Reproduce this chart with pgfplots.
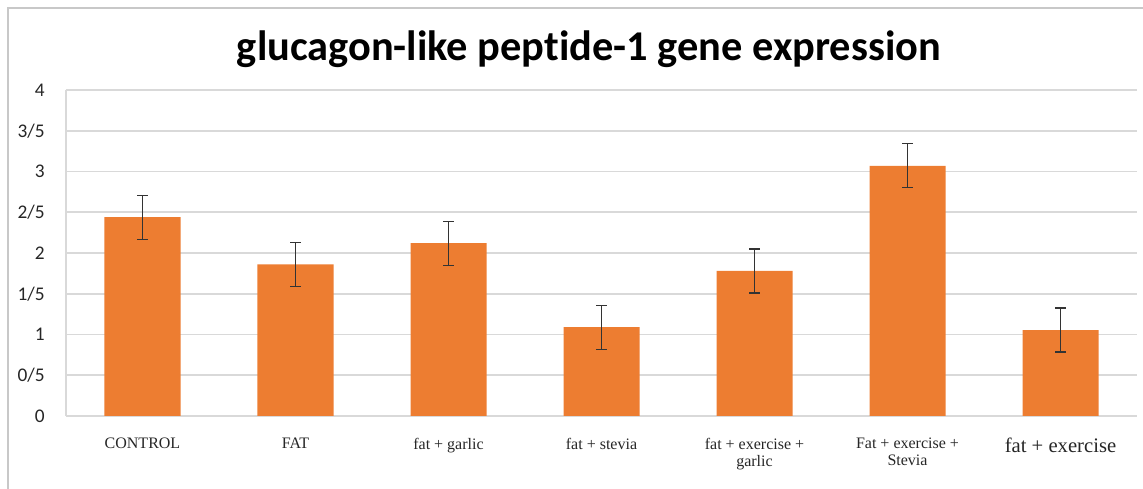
\documentclass[border=0pt]{standalone}
\usepackage{pgfplots}
\pgfplotsset{compat=1.18}
\usepackage{fontspec}
\setmainfont{Liberation Serif}
\newfontfamily\calibri[Ligatures=NoCommon]{Carlito}
\definecolor{barorange}{HTML}{ED7D31}
\definecolor{gridgray}{HTML}{D9D9D9}
\definecolor{framegray}{HTML}{C8C8C8}
\pgfplotstableread{
x y err
0 2.44 0.27
1 1.86 0.27
2 2.12 0.27
3 1.09 0.27
4 1.78 0.27
5 3.07 0.27
6 1.055 0.27
}\glpdata
\begin{document}
\begin{tikzpicture}[x=0.75pt,y=0.75pt]
\useasboundingbox (0,0) rectangle (1143,489);
\draw[framegray, line width=1.2pt] (8,-20) -- (8,481) -- (1170,481);
\node[font=\calibri\bfseries\fontsize{31.8}{34}\selectfont, anchor=center] at (589,440) {glucagon-like peptide-1 gene expression};
\begin{axis}[
  at={(66pt*0.75,73pt*0.75)}, anchor=south west,
  scale only axis,
  width=803.25pt, height=244.5pt,
  xmin=-0.5, xmax=6.5, ymin=0, ymax=4,
  axis x line*=bottom, axis y line*=left,
  axis line style={gridgray, line width=1.2pt, -},
  ymajorgrids, grid style={gridgray, line width=1.4pt},
  major tick length=0pt,
  ytick={0,0.5,1,1.5,2,2.5,3,3.5,4},
  yticklabels={0,0/5,1,1/5,2,2/5,3,3/5,4},
  yticklabel style={font=\calibri\fontsize{14.5}{16}\selectfont, text=black!85, anchor=east, xshift=-12.5pt},
  xtick={0,1,2,3,4,5,6},
  xticklabels={CONTROL, FAT, fat + garlic, fat + stevia, {fat + exercise +\\garlic}, {Fat + exercise +\\Stevia}, {\fontsize{15.5}{17}\selectfont fat + exercise}},
  xticklabel style={font=\fontsize{12}{13}\selectfont, text=black!85, align=center, anchor=north, yshift=-13pt},
]
\addplot[ybar, bar width=57pt, fill=barorange, draw=none,
  error bars/.cd, y dir=both, y explicit,
  error bar style={black!80, line width=0.9pt},
  error mark options={rotate=90, mark size=4pt, black!80, line width=0.9pt}]
  table[x=x, y=y, y error=err] {\glpdata};
\end{axis}
\end{tikzpicture}
\end{document}
